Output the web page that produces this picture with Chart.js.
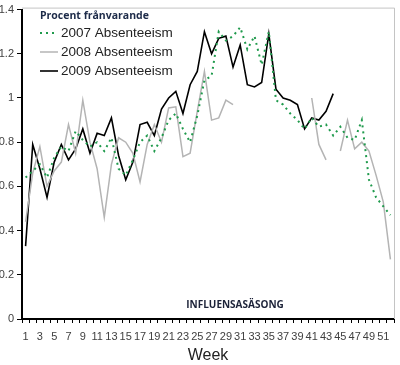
<!DOCTYPE html>
<html>
<head>
<meta charset="utf-8">
<script src="https://cdn.jsdelivr.net/npm/chart.js@4.4.0/dist/chart.umd.min.js"></script>
<style>
  html, body { margin: 0; padding: 0; background: #fff; }
  #wrap { position: relative; width: 400px; height: 365px; }
</style>
</head>
<body>
<div id="wrap"><canvas id="c" width="400" height="365"></canvas></div>
<script>
const weeks = ['1','2','3','4','5','6','7','8','9','10','11','12','13','14','15','16','17','18','19','20','21','22','23','24','25','26','27','28','29','30','31','32','33','34','35','36','37','38','39','40','41','42','43','44','45','46','47','48','49','50','51','52'];

const abs2007 = [0.64,0.67,0.70,0.64,0.73,0.78,0.76,0.85,0.81,0.78,0.80,0.76,0.82,0.68,0.65,0.72,0.80,0.83,0.76,0.82,0.90,0.93,0.86,0.80,0.92,1.08,1.10,1.30,1.26,1.28,1.32,1.22,1.28,1.15,1.30,0.99,0.97,0.93,0.90,0.86,0.91,0.87,0.88,0.83,0.87,0.82,0.81,0.90,0.63,0.55,0.51,0.47];

const abs2008 = [0.44,0.66,0.78,0.60,0.67,0.71,0.88,0.75,0.99,0.80,0.68,0.46,0.70,0.82,0.80,0.75,0.62,0.79,0.88,0.80,0.955,0.96,0.735,0.75,0.94,1.12,0.90,0.91,0.99,0.97,null,null,null,null,null,null,null,null,null,null,1.00,0.79,0.72,null,0.76,0.90,0.77,0.80,0.76,0.65,0.53,0.27];

const abs2009 = [0.33,0.79,0.68,0.55,0.71,0.79,0.72,0.77,0.86,0.75,0.84,0.83,0.91,0.74,0.63,0.71,0.88,0.89,0.83,0.95,1.00,1.03,0.93,1.06,1.12,1.30,1.20,1.27,1.28,1.14,1.24,1.06,1.05,1.07,1.29,1.04,1.00,0.99,0.97,0.86,0.91,0.90,0.94,1.02,null,null,null,null,null,null,null,null];

const seriesNames = ['2007 Absenteeism','2008 Absenteeism','2009 Absenteeism'];
const legendTitle = 'Procent frånvarande';
const seasonLabel = 'INFLUENSASÄSONG';
const yTicks = [0,0.2,0.4,0.6,0.8,1,1.2,1.4];
const xTitle = 'Week';

const borderPlugin = {
  id: 'frame',
  beforeDatasetsDraw(chart) {
    const {ctx, chartArea: a} = chart;
    ctx.save();
    ctx.strokeStyle = '#c4c4c4';
    ctx.lineWidth = 1;
    ctx.beginPath();
    ctx.moveTo(a.left, a.top - 1.5);
    ctx.lineTo(a.right + 0.5, a.top - 1.5);
    ctx.lineTo(a.right + 0.5, a.bottom);
    ctx.stroke();
    ctx.restore();
  },
  afterDraw(chart) {
    const {ctx} = chart;
    ctx.save();
    ctx.font = 'bold 10.5px "Open Sans"';
    ctx.fillStyle = '#1c2a48';
    ctx.textBaseline = 'middle';
    ctx.textAlign = 'left';
    ctx.fillText(legendTitle, 40, 16);
    const rows = [33, 52, 71];
    chart.data.datasets.forEach((ds, i) => {
      ctx.beginPath();
      ctx.strokeStyle = ds.borderColor;
      ctx.lineWidth = ds.borderWidth;
      ctx.setLineDash(ds.borderDash || []);
      ctx.moveTo(40, rows[i]);
      ctx.lineTo(58, rows[i]);
      ctx.stroke();
      ctx.setLineDash([]);
      ctx.font = '13.5px "Liberation Sans"';
      ctx.fillStyle = '#222';
      ctx.fillText(ds.label, 61, rows[i] + 0.5);
    });
    ctx.font = 'bold 10px "Open Sans"';
    ctx.fillStyle = '#1c2238';
    ctx.textAlign = 'center';
    ctx.fillText(seasonLabel, 235, 305);
    ctx.restore();
  }
};

new Chart(document.getElementById('c'), {
  type: 'line',
  data: {
    labels: weeks,
    datasets: [
      { label: seriesNames[0], data: abs2007, borderColor: '#1f9a4c', borderWidth: 2, borderDash: [2, 4], pointRadius: 0, tension: 0, fill: false },
      { label: seriesNames[1], data: abs2008, borderColor: '#b4b4b4', borderWidth: 1.5, pointRadius: 0, tension: 0, fill: false },
      { label: seriesNames[2], data: abs2009, borderColor: '#000000', borderWidth: 1.6, pointRadius: 0, tension: 0, fill: false }
    ]
  },
  options: {
    responsive: false,
    animation: false,
    spanGaps: false,
    layout: { padding: { top: 6, right: 6, left: 0, bottom: 0 } },
    plugins: { legend: { display: false }, tooltip: { enabled: false } },
    scales: {
      x: {
        type: 'category',
        offset: true,
        border: { color: '#000', width: 2 },
        grid: { display: true, drawOnChartArea: false, drawTicks: true, tickLength: 4, tickColor: '#000', tickWidth: 1, offset: true },
        ticks: {
          autoSkip: false, maxRotation: 0, minRotation: 0, padding: 7,
          color: '#404040', font: { family: 'Liberation Sans', size: 11 },
          callback: function(v, i) { return (i % 2 === 0) ? weeks[i] : ''; }
        },
        title: { display: true, text: xTitle, color: '#222', font: { family: 'Liberation Sans', size: 16 }, padding: { top: 0, bottom: 0 } },
        afterFit(s) { s.height = 46; }
      },
      y: {
        min: 0, max: 1.4,
        border: { color: '#000', width: 2 },
        grid: { display: true, drawOnChartArea: false, drawTicks: true, tickLength: 5, tickColor: '#000' },
        afterBuildTicks(s) { s.ticks = yTicks.map(v => ({ value: v })); },
        ticks: {
          padding: 3, color: '#404040', font: { family: 'Liberation Sans', size: 11 },
          callback: v => String(v)
        },
        afterFit(s) { s.width = 22; }
      }
    }
  },
  plugins: [borderPlugin]
});
</script>
</body>
</html>
